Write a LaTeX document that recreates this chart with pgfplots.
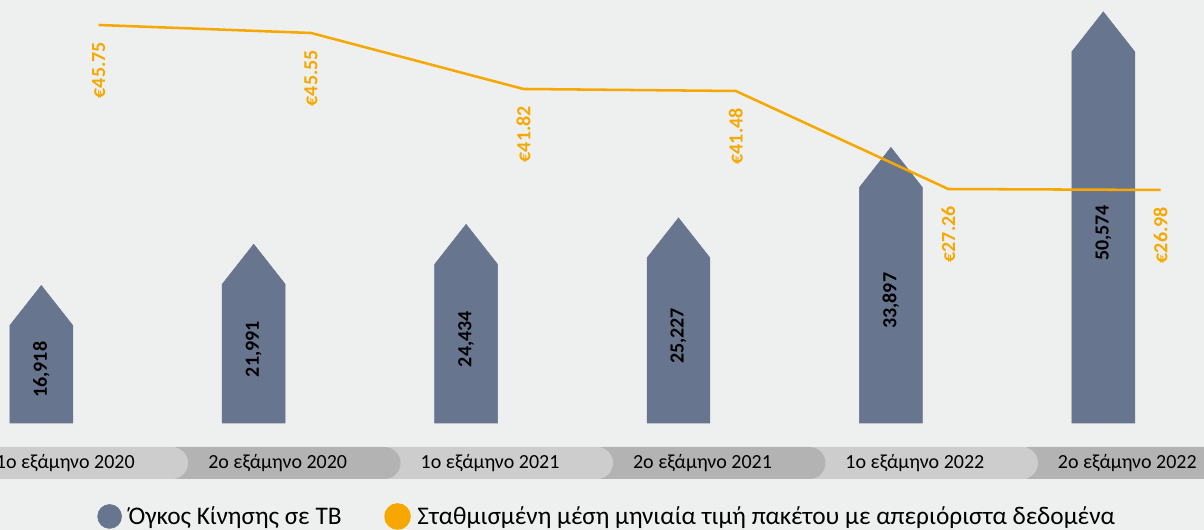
\documentclass[border=0pt]{standalone}
\usepackage{fontspec}
\setmainfont{Carlito}
\usepackage{pgfplots}
\pgfplotsset{compat=1.18}
\definecolor{bgc}{HTML}{EEF0EF}
\definecolor{barc}{HTML}{68758F}
\definecolor{orng}{HTML}{F7A800}
\definecolor{pilllt}{HTML}{CDCDCD}
\definecolor{pilldk}{HTML}{B3B3B3}
\newcommand{\lblfont}{\fontsize{15}{18}\selectfont}
\newcommand{\legfont}{\fontsize{19}{22}\selectfont}

\begin{document}
\begin{tikzpicture}
\fill[bgc] (0,0) rectangle (903pt,397.5pt);
\useasboundingbox (0,0) rectangle (903pt,397.5pt);

% category bands, drawn right to left so each rounded end sits on the next
\fill[pilldk, rounded corners=12pt] (760pt,38.25pt) rectangle (960pt,62.25pt);
\fill[pilllt, rounded corners=12pt] (600pt,38.25pt) rectangle (778.5pt,62.25pt);
\fill[pilldk, rounded corners=12pt] (440pt,38.25pt) rectangle (619.1pt,62.25pt);
\fill[pilllt, rounded corners=12pt] (280pt,38.25pt) rectangle (459.75pt,62.25pt);
\fill[pilldk, rounded corners=12pt] (120pt,38.25pt) rectangle (300.4pt,62.25pt);
\fill[pilllt, rounded corners=12pt] (-40pt,38.25pt) rectangle (141pt,62.25pt);

% volume (arrow bars)
\begin{axis}[
  at={(0pt,80.25pt)}, anchor=south west,
  scale only axis, width=903pt, height=317.25pt,
  xmin=-0.19445, xmax=5.4741, ymin=0, ymax=52030,
  axis line style={draw=none}, major tick length=0pt,
  ytick=\empty,
  xtick={0.113,1.113,2.113,3.113,4.113,5.113},
  xticklabels={1ο εξάμηνο 2020, 2ο εξάμηνο 2020, 1ο εξάμηνο 2021, 2ο εξάμηνο 2021, 1ο εξάμηνο 2022, 2ο εξάμηνο 2022},
  xticklabel style={anchor=center, yshift=-30pt, font=\lblfont, text=black},
  clip=false,
]
\addplot[scatter, only marks, mark=*, mark size=0pt,
  visualization depends on={rawy \as \ry},
  scatter/@pre marker code/.code={%
    \fill[barc] (0pt,0pt) -- (23.6pt,-30pt)
      -- ([xshift=23.6pt]axis direction cs:0,-\ry)
      -- ([xshift=-23.6pt]axis direction cs:0,-\ry)
      -- (-23.6pt,-30pt) -- cycle;
    \path[draw=none] (0pt,0pt) -- ([yshift=-23.25pt]axis direction cs:0,-\ry)
      node[midway, rotate=90, font=\bfseries\lblfont, text=black]
      {\pgfmathprintnumber[fixed, precision=0, 1000 sep={,}, assume math mode=true]{\ry}};
  },
  scatter/@post marker code/.code={},
] coordinates {(0,16918) (1,21991) (2,24434) (3,25227) (4,33897) (5,50574)};
\end{axis}

% price line
\begin{axis}[
  at={(0pt,80.25pt)}, anchor=south west,
  scale only axis, width=903pt, height=317.25pt,
  xmin=-0.19445, xmax=5.4741, ymin=0.47, ymax=48.594,
  hide axis, clip=false,
  legend columns=2,
  legend style={at={(0.5046,-0.221)}, anchor=center, draw=none, fill=none,
    font=\legfont, text=black,
    /tikz/every odd column/.append style={column sep=3pt},
    /tikz/every even column/.append style={column sep=30pt}},
]
\addlegendimage{legend image code/.code={\fill[barc] (0pt,0pt) circle (9pt);}}
\addlegendentry{Όγκος Κίνησης σε TB}
\addplot[orng, line width=1.9pt, mark=none,
  nodes near coords, point meta=explicit symbolic,
  every node near coord/.append style={rotate=90, anchor=east, inner xsep=12pt, text=orng, font=\bfseries\lblfont},
  legend image code/.code={\fill[orng] (0pt,0pt) circle (9pt);},
] coordinates {(0.27,45.75)[€45.75] (1.27,44.84)[€45.55] (2.27,38.47)[€41.82] (3.27,38.24)[€41.48] (4.27,27.09)[€27.26] (5.27,26.98)[€26.98]};
\addlegendentry{Σταθμισμένη μέση μηνιαία τιμή πακέτου με απεριόριστα δεδομένα}
\end{axis}
\end{tikzpicture}
\end{document}
